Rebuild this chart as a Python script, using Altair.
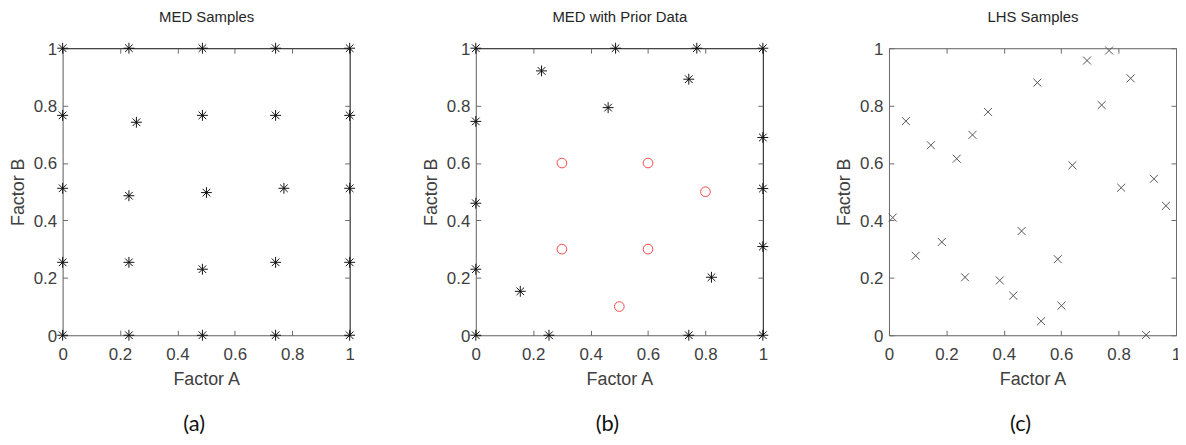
import altair as alt
import pandas as pd

# ---------------- data ----------------
ticks = [0, 0.2, 0.4, 0.6, 0.8, 1]

a_x = [0, 0.231, 0.487, 0.742, 1,
       0, 0.231, 0.487, 0.742, 1,
       0, 0.231, 0.501, 0.771, 1,
       0, 0.257, 0.487, 0.742, 1,
       0, 0.231, 0.487, 0.742, 1]
a_y = [0, 0, 0, 0, 0,
       0.254, 0.254, 0.230, 0.254, 0.254,
       0.512, 0.486, 0.497, 0.512, 0.512,
       0.766, 0.742, 0.766, 0.766, 0.766,
       1, 1, 1, 1, 1]

b_x = [0, 0.487, 0.770, 1, 0.229, 0.742, 0.461, 0, 1, 1,
       0, 1, 0, 0.821, 0.155, 0, 0.255, 0.742, 1]
b_y = [1, 1, 1, 1, 0.921, 0.892, 0.793, 0.745, 0.689, 0.511,
       0.460, 0.309, 0.230, 0.202, 0.153, 0, 0, 0, 0]
prior_x = [0.3, 0.6, 0.8, 0.3, 0.6, 0.5]
prior_y = [0.6, 0.6, 0.5, 0.3, 0.3, 0.1]

c_x = [0.013, 0.059, 0.093, 0.146, 0.184, 0.236, 0.265, 0.291, 0.345, 0.386,
       0.433, 0.462, 0.517, 0.530, 0.588, 0.601, 0.639, 0.690, 0.741, 0.767,
       0.809, 0.842, 0.896, 0.923, 0.965]
c_y = [0.410, 0.746, 0.277, 0.662, 0.325, 0.615, 0.202, 0.698, 0.778, 0.191,
       0.138, 0.363, 0.880, 0.049, 0.265, 0.103, 0.592, 0.957, 0.802, 0.992,
       0.514, 0.895, 0.001, 0.545, 0.451]

titles = ["MED Samples", "MED with Prior Data", "LHS Samples"]
letters = ["(a)", "(b)", "(c)"]

# ---------------- styling ----------------
FONT = "Liberation Sans"
GRAY = "#6a6a6a"
DARK = "#1a1a1a"
TXT = "#404040"
W = 289
STAR = "M-1,0L1,0M0,-1L0,1M-0.7,-0.7L0.7,0.7M-0.7,0.7L0.7,-0.7"
CROSS = "M-1,-1L1,1M-1,1L1,-1"

sc = alt.Scale(domain=[0, 1], nice=False, zero=False)


def axes_layers(df, title, frame_dark):
    top_col = DARK if frame_dark else GRAY
    # 1: labels + titles + left/bottom frame
    l1 = alt.Chart(df).mark_point(opacity=0).encode(
        x=alt.X("x:Q", scale=sc, axis=alt.Axis(
            orient="bottom", values=ticks, format="~g", ticks=False, grid=False,
            domain=True, domainColor=GRAY, domainWidth=1, labelFlush=False,
            labelFont=FONT, labelFontSize=17, labelColor=TXT, labelPadding=11,
            title="Factor A", titleFont=FONT, titleFontSize=18,
            titleFontWeight="normal", titleColor=TXT, titlePadding=9)),
        y=alt.Y("y:Q", scale=sc, axis=alt.Axis(
            orient="left", values=ticks, format="~g", ticks=False, grid=False,
            domain=True, domainColor=GRAY, domainWidth=1, labelOffset=1,
            labelFont=FONT, labelFontSize=17, labelColor=TXT, labelPadding=6,
            title="Factor B", titleFont=FONT, titleFontSize=18,
            titleFontWeight="normal", titleColor=TXT, titlePadding=6)),
    )
    # 2: inward ticks bottom / left
    l2 = alt.Chart(df).mark_point(opacity=0).encode(
        x=alt.X("x:Q", scale=sc, axis=alt.Axis(
            orient="bottom", values=ticks, labels=False, domain=False, grid=False,
            ticks=True, tickSize=5, tickColor=GRAY, offset=-5, title=None)),
        y=alt.Y("y:Q", scale=sc, axis=alt.Axis(
            orient="left", values=ticks, labels=False, domain=False, grid=False,
            ticks=True, tickSize=5, tickColor=GRAY, offset=-5, title=None)),
    )
    # 3: top / right frame + panel title
    l3 = alt.Chart(df).mark_point(opacity=0).encode(
        x=alt.X("x:Q", scale=sc, axis=alt.Axis(
            orient="top", values=ticks, labels=False, ticks=False, grid=False,
            domain=True, domainColor=top_col, domainWidth=1,
            title=title, titleFont=FONT, titleFontSize=15, titleFontWeight="normal",
            titleColor="#262626", titlePadding=24)),
        y=alt.Y("y:Q", scale=sc, axis=alt.Axis(
            orient="right", values=ticks, labels=False, ticks=False, grid=False,
            domain=True, domainColor=top_col, domainWidth=1, title=None)),
    )
    # 4: inward ticks top / right
    l4 = alt.Chart(df).mark_point(opacity=0).encode(
        x=alt.X("x:Q", scale=sc, axis=alt.Axis(
            orient="top", values=ticks, labels=False, domain=False, grid=False,
            ticks=True, tickSize=5, tickColor=GRAY, offset=-5, title=None)),
        y=alt.Y("y:Q", scale=sc, axis=alt.Axis(
            orient="right", values=ticks, labels=False, domain=False, grid=False,
            ticks=True, tickSize=5, tickColor=GRAY, offset=-5, title=None)),
    )
    return [l1, l2, l3, l4]


def pts(df, shape, color, size, sw=1):
    return alt.Chart(df).mark_point(shape=shape, color=color, filled=False,
                                    size=size, strokeWidth=sw, opacity=1).encode(
        x=alt.X("x:Q", scale=sc, axis=None), y=alt.Y("y:Q", scale=sc, axis=None))


def panel(main_layers, df_axes, title, letter, frame_dark):
    layers = axes_layers(df_axes, title, frame_dark) + main_layers
    return alt.layer(*layers).resolve_axis(x="independent", y="independent").properties(
        width=W, height=W,
        title=alt.TitleParams(letter, orient="bottom", anchor="middle", dx=-12,
                              font="Lato", fontSize=22, fontWeight="normal",
                              color="#111111", offset=25),
    )


dfa = pd.DataFrame({"x": a_x, "y": a_y})
dfb = pd.DataFrame({"x": b_x, "y": b_y})
dfp = pd.DataFrame({"x": prior_x, "y": prior_y})
dfc = pd.DataFrame({"x": c_x, "y": c_y})

pa = panel([pts(dfa, STAR, "#111111", 120)], dfa, titles[0], letters[0], True)
pb = panel([pts(dfb, STAR, "#111111", 120),
            pts(dfp, "circle", "#f24a4a", 95)], dfb, titles[1], letters[1], True)
pc = panel([pts(dfc, CROSS, "#555555", 64)], dfc, titles[2], letters[2], False)

# fixed-size canvas: origin = top-left of the first plot area
PAD_L, PAD_T = 55, 38
CANVAS_W, CANVAS_H = 1178, 437
chart = alt.hconcat(pa, pb, pc, spacing=127, bounds="flush").properties(
    autosize=alt.AutoSizeParams(type="none"),
    padding={"left": PAD_L, "top": PAD_T,
             "right": CANVAS_W - PAD_L, "bottom": CANVAS_H - PAD_T},
).configure_view(stroke=None).configure(background="white")

chart.save("out.html", embed_options={"renderer": "svg", "actions": False})
